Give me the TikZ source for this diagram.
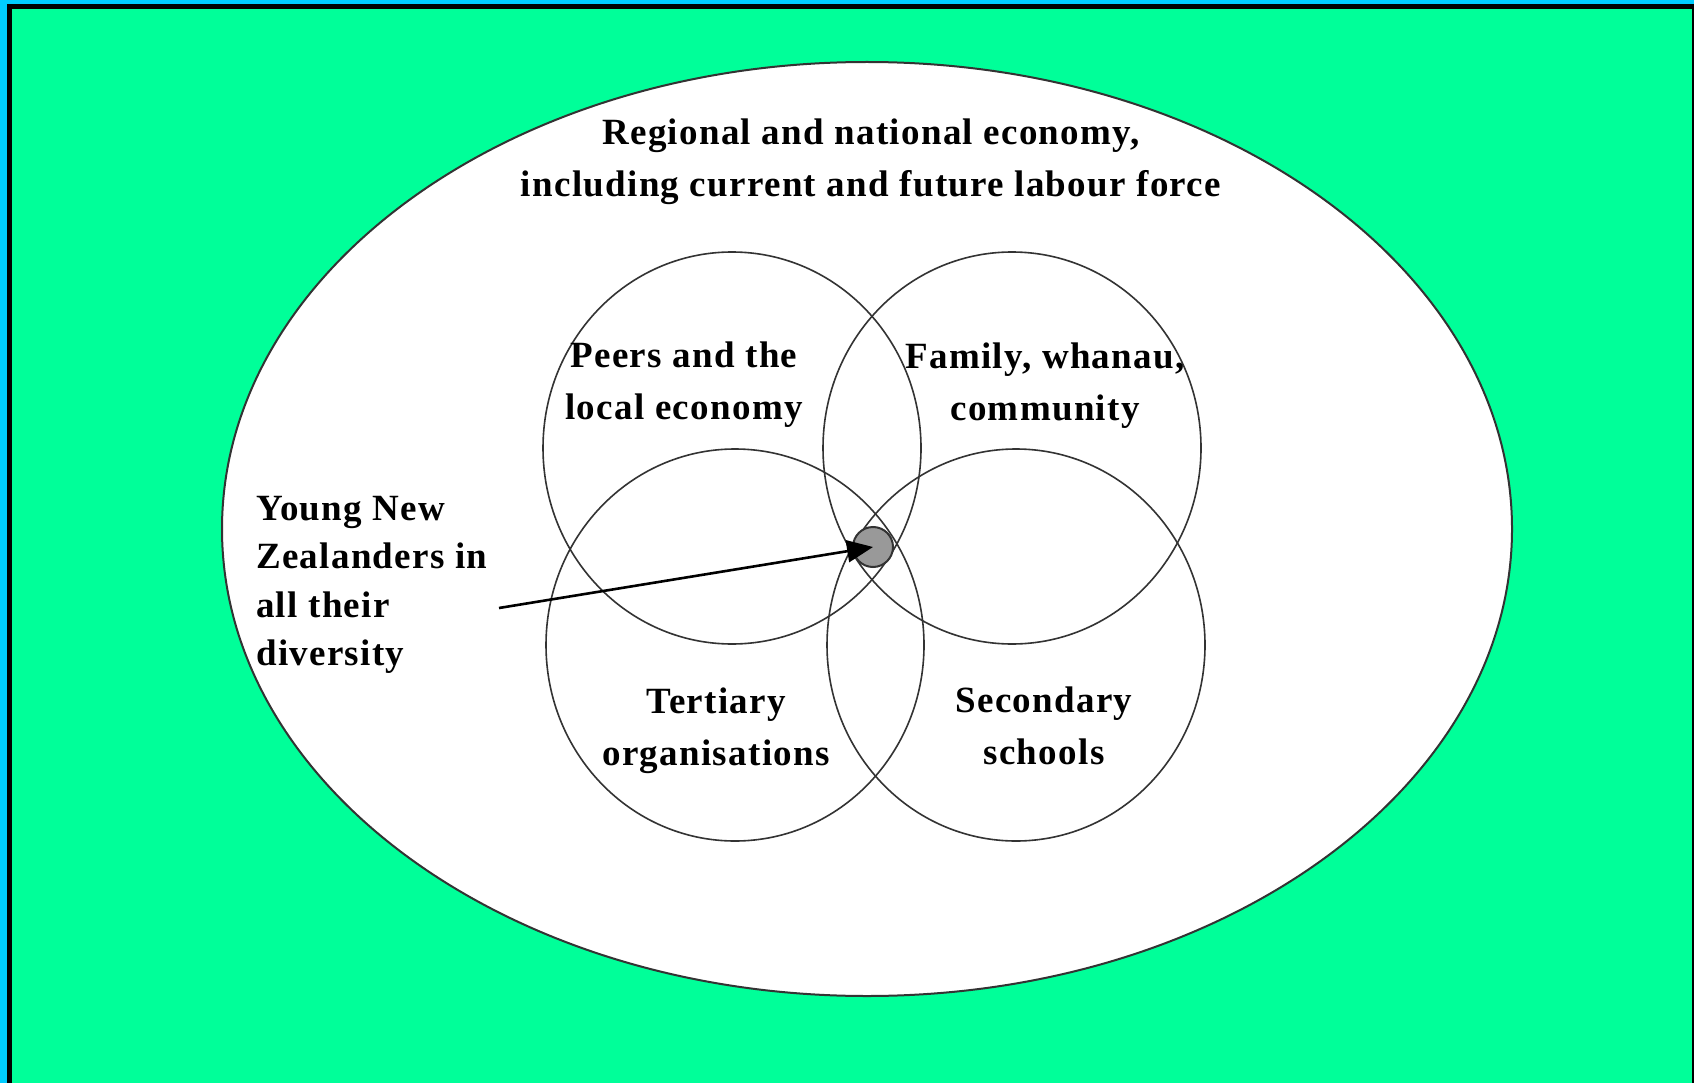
\documentclass[tikz,border=0pt]{standalone}
\usepackage{fontspec}
\setmainfont{Liberation Serif}[LetterSpace=3.5]
\usetikzlibrary{shapes.geometric,arrows.meta}
\definecolor{bggreen}{HTML}{00FF99}
\definecolor{edgecyan}{HTML}{00CCFF}
\definecolor{dotgray}{HTML}{999999}
\definecolor{linegray}{HTML}{333333}
\tikzset{
  ring/.style={draw=linegray, line width=1.6pt, ellipse, minimum width=378pt, minimum height=392pt, inner sep=0pt},
  lbl/.style={font=\fontsize{37}{52}\selectfont\bfseries, align=center, inner sep=0pt},
}
\begin{document}
\begin{tikzpicture}[x=1pt,y=-1pt]
\useasboundingbox (0,0) rectangle (1694,1083);
% background and frame
\fill[edgecyan] (0,0) rectangle (1694,1083);
\fill[black] (7,4) rectangle (1694,1083);
\fill[bggreen] (12,9) rectangle (1692,1083);
% outer ellipse
\node[draw=linegray, line width=2pt, fill=white, ellipse, minimum width=1290pt, minimum height=934pt, inner sep=0pt] (economy) at (867,529) {};
% four circles
\node[ring] (peers) at (732,448) {};
\node[ring] (family) at (1012,448) {};
\node[ring] (tertiary) at (735,645) {};
\node[ring] (secondary) at (1016,645) {};
% labels
\node[lbl] (econlbl) at (871,162) {Regional and national economy,\\including current and future labour force};
\node[lbl] (peerslbl) at (684,385) {Peers and the\\local economy};
\node[lbl] (familylbl) at (1045,386) {Family, whanau,\\community};
\node[lbl] (tertiarylbl) at (716,731) {Tertiary\\organisations};
\node[lbl] (secondarylbl) at (1044,726) {Secondary\\schools};
\node[lbl, align=left, anchor=north west, font=\fontsize{37}{48.5}\selectfont\bfseries] (young) at (256,496) {Young New\\Zealanders in\\all their\\diversity};
% central dot and arrow
\node[circle, draw=linegray, line width=2pt, fill=dotgray, minimum size=40pt, inner sep=0pt] (dot) at (873,547) {};
\coordinate (arrowstart) at (499,608);
\draw[line width=2.6pt, -{Triangle[length=26pt,width=22pt]}] (arrowstart) -- (dot.center);
\end{tikzpicture}
\end{document}
